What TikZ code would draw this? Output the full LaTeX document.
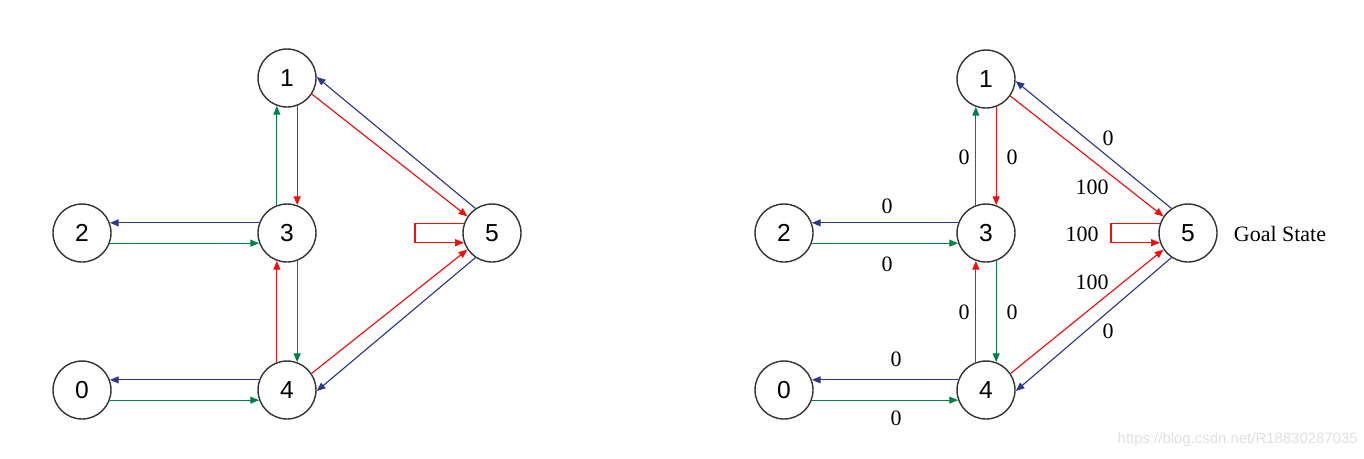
\documentclass[tikz,border=0pt]{standalone}
\usepackage{fontspec}
\setmainfont{Liberation Serif}
\newfontfamily\numfont{Liberation Sans}
\usetikzlibrary{arrows.meta}
\definecolor{qblue}{RGB}{45,55,145}
\definecolor{qred}{RGB}{250,10,10}
\definecolor{qgreen}{RGB}{0,130,70}
\begin{document}
\begin{tikzpicture}[x=0.02cm,y=-0.02cm,
    state/.style={circle,draw=black!80,line width=0.8pt,minimum size=1.16cm,inner sep=0pt,
      font=\numfont\fontsize{14}{15}\selectfont},
    tip/.style={-{Triangle[length=5pt,width=4pt]}},
    bl/.style={tip,draw=qblue,line width=0.65pt},
    rd/.style={tip,draw=qred,line width=0.65pt},
    gr/.style={tip,draw=qgreen,line width=0.65pt},
    weight/.style={inner sep=0pt,font=\fontsize{12.5}{13}\selectfont}]
      \useasboundingbox (0,0) rectangle (1364,458);
      % left graph
      \node[state] (a1) at (287,78) {1};
      \node[state] (a2) at (82,233) {2};
      \node[state] (a3) at (287,233) {3};
      \node[state] (a5) at (492,233) {5};
      \node[state] (a0) at (82,390) {0};
      \node[state] (a4) at (287,390) {4};
      \draw[bl] (a3.160) -- (a2.20);
      \draw[gr] (a2.-20) -- (a3.200);
      \draw[gr] (a3.110) -- (a1.250);
      \draw[rd] (a1.290) -- (a3.70);
      \draw[rd] (a4.110) -- (a3.250);
      \draw[gr] (a3.290) -- (a4.70);
      \draw[bl] (a4.160) -- (a0.20);
      \draw[gr] (a0.-20) -- (a4.200);
      \draw[bl] (a5.124) -- (a1.2);
      \draw[rd] (a1.-33) -- (a5.146);
      \draw[rd] (a4.34) -- (a5.214);
      \draw[bl] (a5.236) -- (a4.-2);
      \draw[rd] (a5.161) -- ++(-49,0) |- (a5.199);
      % right graph
      \node[state] (b1) at (986,79) {1};
      \node[state] (b2) at (784,233) {2};
      \node[state] (b3) at (986,233) {3};
      \node[state] (b5) at (1188,233) {5};
      \node[state] (b0) at (784,390) {0};
      \node[state] (b4) at (986,390) {4};
      \draw[bl] (b3.160) -- (b2.20);
      \draw[gr] (b2.-20) -- (b3.200);
      \draw[gr] (b3.110) -- (b1.250);
      \draw[rd] (b1.290) -- (b3.70);
      \draw[rd] (b4.110) -- (b3.250);
      \draw[gr] (b3.290) -- (b4.70);
      \draw[bl] (b4.160) -- (b0.20);
      \draw[gr] (b0.-20) -- (b4.200);
      \draw[bl] (b5.124) -- (b1.-4);
      \draw[rd] (b1.-35) -- (b5.146);
      \draw[rd] (b4.34) -- (b5.214);
      \draw[bl] (b5.236) -- (b4.-2);
      \draw[rd] (b5.161) -- ++(-49,0) |- (b5.199);
      \node[weight] (w32) at (887,206) {0};
      \node[weight] (w23) at (887,264) {0};
      \node[weight] (w31) at (964,157) {0};
      \node[weight] (w13) at (1012,157) {0};
      \node[weight] (w43) at (964,312) {0};
      \node[weight] (w34) at (1012,312) {0};
      \node[weight] (w40) at (896,359) {0};
      \node[weight] (w04) at (896,418) {0};
      \node[weight] (w51) at (1108,138) {0};
      \node[weight] (w15) at (1092,187) {100};
      \node[weight] (w55) at (1082,234) {100};
      \node[weight] (w45) at (1092,282) {100};
      \node[weight] (w54) at (1108,331) {0};
      \node[weight] (goal) at (1280,234) {Goal State};
      \node[inner sep=0pt,anchor=east,text=black!12,font=\numfont\fontsize{8.5}{9}\selectfont]
        (mark) at (1358,440) {https://blog.csdn.net/R18830287035};
    \end{tikzpicture}
\end{document}
